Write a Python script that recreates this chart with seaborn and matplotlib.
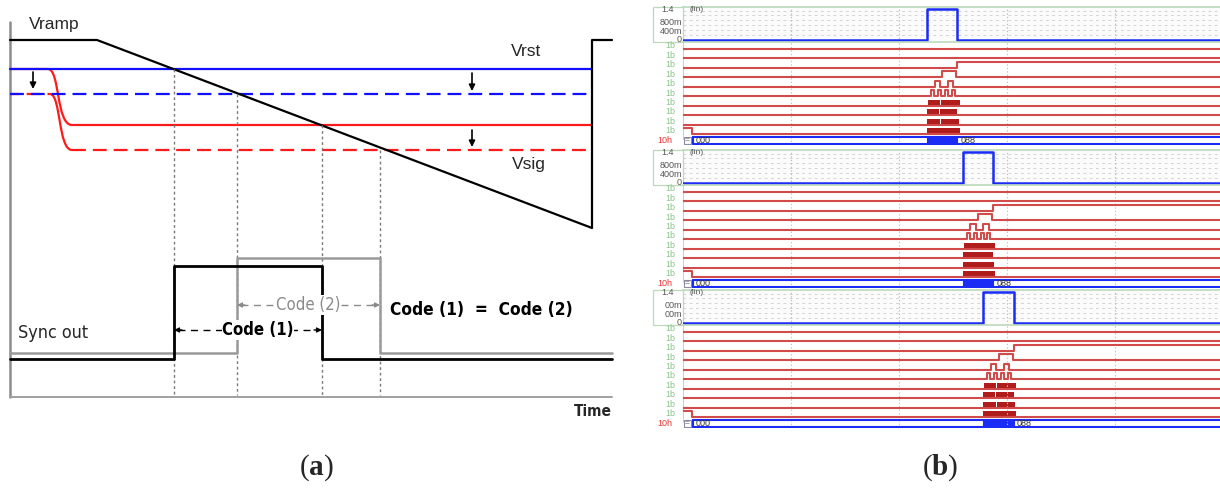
import matplotlib
matplotlib.use("Agg")
import matplotlib.pyplot as plt
import seaborn as sns
from matplotlib import font_manager
from matplotlib.path import Path
from matplotlib.patches import PathPatch, Rectangle

sns.set_theme(style="white")
plt.rcParams["font.family"] = ["Liberation Sans", "DejaVu Sans"]
plt.rcParams["lines.scale_dashes"] = False
plt.rcParams["mathtext.fontset"] = "custom"
plt.rcParams["mathtext.rm"] = "Liberation Serif"
plt.rcParams["mathtext.bf"] = "Liberation Serif:bold"

# narrow face for the lower labels (Calibri-like in the original)
NARROW, STRETCH, NSCALE = "Liberation Sans", "normal", 0.82
for f in font_manager.fontManager.ttflist:
    if f.name == "Liberation Sans Narrow":
        NARROW, STRETCH, NSCALE = f.name, "normal", 1.0
        break
    if f.name.startswith("DejaVu Sans") and ("Condensed" in f.name or "condensed" in str(f.stretch)):
        NARROW, STRETCH, NSCALE = f.name, str(f.stretch), 0.92

# ---------------- (a) single-slope ADC timing, schematic units ----------------
ramp_t = [10, 97, 592, 592, 612]
ramp_v = [40, 40, 228, 40, 40]
vrst_level, vrst_shifted = 69, 94
vsig_level, vsig_shifted = 125, 150
line_start, line_end = 10, 592
sig_drop = [48, 72]                       # settling of the pixel signal
cross_t = [174, 237, 322, 380]            # comparator flips
cross_v = [69, 94, 125, 150]
sync_low = [359, 353]
sync_high = [266, 258]

# ---------------- (b) simulated counter waveforms ----------------
t_max = 4.97
grid_t = [1, 2, 3, 4]
win_open = [2.26, 2.59, 2.78]
win_close = [2.54, 2.87, 3.06]
pulse_high = 1.4
analog_ticks = [0, 0.4, 0.8]
analog_tick_text = [["0", "400m", "800m"], ["0", "400m", "800m"], ["0", "00m", "00m"]]
fine_levels = [0.22, 0.44, 0.66, 0.88, 1.1, 1.3]
row_label = "1b"
bus_label = "10h"
bus_values = ["000", "088"]
lsb_reset = 0.08
# bit activity, offsets from window opening
bit2_rise = 0.28
bit3_pulses = [(0.14, 0.27)]
bit4_pulses = [(0.07, 0.12), (0.19, 0.24)]
bit5_pulses = [(0.035, 0.065), (0.10, 0.13), (0.165, 0.195), (0.225, 0.255)]
bit6_blocks = [(0.01, 0.12), (0.125, 0.30)]
bit7_blocks = [(0.0, 0.11), (0.115, 0.28)]
bit8_blocks = [(0.0, 0.12), (0.125, 0.29)]
bit9_blocks = [(0.0, 0.30)]

W, H = 1220, 488
fig = plt.figure(figsize=(W / 100, H / 100), dpi=100)


def px_axes(l, t, r, b):
    return fig.add_axes([l / W, 1 - b / H, (r - l) / W, (b - t) / H])


def trace(ax, x, y, **kw):
    sns.lineplot(x=x, y=y, ax=ax, sort=False, estimator=None, legend=False, **kw)


def ntext(ax, x, y, s, size, **kw):
    ax.text(x, y, s, fontsize=size * NSCALE, family=NARROW, fontstretch=STRETCH, **kw)


# ================= panel (a) =================
axL = px_axes(0, 0, 620, 488)
axL.set_axis_off()

trace(axL, [10, 10], [22, 397], color="#8c8c8c", linewidth=1.8)
trace(axL, [10, 612], [397, 397], color="#a0a0a0", linewidth=1.4)

RED, BLUE = "#ff1a1a", "#1010ff"
DASH = (0, (10, 5))

# red signal lines (settling from the reset level)
trace(axL, [line_start, sig_drop[0]], [vrst_level, vrst_level], color=RED, linewidth=1.6)
axL.add_patch(PathPatch(Path([(sig_drop[0], vrst_level), (sig_drop[0] + 12, vrst_level),
                              (sig_drop[1] - 16, vsig_level), (sig_drop[1], vsig_level)],
                             [Path.MOVETO, Path.CURVE4, Path.CURVE4, Path.CURVE4]),
                        fill=False, ec=RED, lw=1.6))
trace(axL, [sig_drop[1], line_end], [vsig_level, vsig_level], color=RED, linewidth=1.6)

trace(axL, [line_start, sig_drop[0] + 2], [vrst_shifted, vrst_shifted], color=RED,
      linewidth=1.6, linestyle=(3, (10, 5)))
axL.add_patch(PathPatch(Path([(sig_drop[0] + 2, vrst_shifted), (sig_drop[0] + 13, vrst_shifted),
                              (sig_drop[1] - 14, vsig_shifted), (sig_drop[1], vsig_shifted)],
                             [Path.MOVETO, Path.CURVE4, Path.CURVE4, Path.CURVE4]),
                        fill=False, ec=RED, lw=1.6))
trace(axL, [sig_drop[1], line_end], [vsig_shifted, vsig_shifted], color=RED,
      linewidth=1.6, linestyle=DASH)

# blue reset lines
trace(axL, [line_start, line_end], [vrst_level, vrst_level], color=BLUE, linewidth=1.6)
trace(axL, [line_start, line_end], [vrst_shifted, vrst_shifted], color=BLUE,
      linewidth=1.6, linestyle=DASH)

# ramp
trace(axL, ramp_t, ramp_v, color="black", linewidth=1.6)

# comparator crossings
for t, v in zip(cross_t, cross_v):
    trace(axL, [t, t], [v, 395], color="#7a7a7a", linewidth=1.0, linestyle=(0, (2, 2)))

# sync outputs
trace(axL, [10, cross_t[1], cross_t[1], cross_t[3], cross_t[3], 612],
      [sync_low[1], sync_low[1], sync_high[1], sync_high[1], sync_low[1], sync_low[1]],
      color="#9a9a9a", linewidth=1.8)
trace(axL, [10, cross_t[0], cross_t[0], cross_t[2], cross_t[2], 612],
      [sync_low[0], sync_low[0], sync_high[0], sync_high[0], sync_low[0], sync_low[0]],
      color="black", linewidth=2.0)

# small down arrows
for x, y0, y1 in [(33, 72, 89), (472, 73, 91), (472, 130, 147)]:
    axL.annotate("", xy=(x, y1), xytext=(x, y0),
                 arrowprops=dict(arrowstyle="-|>", color="black", lw=1.2,
                                 mutation_scale=9, shrinkA=0, shrinkB=0))

# code span arrows
for (a, b, y, col) in [(cross_t[0], cross_t[2], 330, "black"), (cross_t[1], cross_t[3], 305, "#8a8a8a")]:
    trace(axL, [a + 4, b - 4], [y, y], color=col, linewidth=1.0, linestyle=(0, (5, 4)))
    for tip, tail in [(a, a + 8), (b, b - 8)]:
        axL.annotate("", xy=(tip, y), xytext=(tail, y),
                     arrowprops=dict(arrowstyle="-|>", color=col, lw=1.0,
                                     mutation_scale=7, shrinkA=0, shrinkB=0))

ntext(axL, 258, 330, "Code (1)", 13, fontweight="bold", ha="center", va="center",
      color="black", bbox=dict(fc="white", ec="none", pad=0.5))
ntext(axL, 308, 305, "Code (2)", 13, ha="center", va="center", color="#8a8a8a",
      bbox=dict(fc="white", ec="none", pad=0.5))
ntext(axL, 390, 310, "Code (1)  =  Code (2)", 13.5, fontweight="bold", ha="left",
      va="center", color="black")
ntext(axL, 18, 333, "Sync out", 14, ha="left", va="center")
ntext(axL, 612, 411, "Time", 12, fontweight="bold", ha="right", va="center")
axL.text(29, 24, "Vramp", fontsize=12.5, ha="left", va="center")
axL.text(511, 52, "Vrst", fontsize=12.5, ha="left", va="center")
axL.text(512, 165, "Vsig", fontsize=12.5, ha="left", va="center")
axL.text(316, 468, r"($\mathbf{a}$)", fontsize=21, family="Liberation Serif",
         ha="center", va="center")
axL.set_xlim(0, 620)
axL.set_ylim(488, 0)

# ================= panel (b) =================
axR = px_axes(620, 0, 1220, 488)
axR.set_axis_off()
axR.set_xlim(620, 1220)
axR.set_ylim(488, 0)
axR.text(940, 468, r"($\mathbf{b}$)", fontsize=21, family="Liberation Serif",
         ha="center", va="center")

BUSBLUE = "#1a2cf5"
ROWRED = "#d24b4b"
DARKRED = "#b01c1c"
GREEN = "#bcd9bc"
LABEL_GREEN = "#8cc48c"
panel_top = [0, 143, 283]
lo_off, hi_off = 0.85, 0.2
bit_pulses = {3: bit3_pulses, 4: bit4_pulses, 5: bit5_pulses}
bit_blocks = {6: bit6_blocks, 7: bit7_blocks, 8: bit8_blocks, 9: bit9_blocks}

for k, p in enumerate(panel_top):
    o, c = win_open[k], win_close[k]

    # analog sync-out strip
    axA = px_axes(683, p + 7, 1220, p + 42)
    axA.set_facecolor("#fbfbfb")
    for side, s in axA.spines.items():
        s.set_visible(side in ("top", "bottom"))
        s.set_color(GREEN)
        s.set_linewidth(1.2)
    axA.set_xticks([])
    axA.set_yticks([])
    for g in fine_levels:
        axA.axhline(g, color="#cdcdcd", lw=0.6, ls=(0, (2, 2.5)))
    for g in grid_t:
        axA.axvline(g, color="#bdbdbd", lw=0.8, ls=(0, (1, 1.5)))
    axA.axvline(0, color=GREEN, lw=1.2)
    trace(axA, [0, o, o, c, c, t_max], [0, 0, pulse_high, pulse_high, 0, 0],
          color=BUSBLUE, linewidth=1.8)
    axA.add_patch(Rectangle((-0.28, -0.09), 0.28, 1.56, fill=False, ec=GREEN,
                            lw=0.9, clip_on=False))
    for v, s in zip(analog_ticks, analog_tick_text[k]):
        axA.text(-0.01, v, s, fontsize=6.5, color="#555555", ha="right", va="center")
    axA.text(-0.14, pulse_high - 0.05, "1.4", fontsize=6.5, color="#555555",
             ha="center", va="center")
    axA.text(0.06, pulse_high - 0.02, "(lin)", fontsize=6, color="#555555",
             ha="left", va="center")
    axA.set_xlim(0, t_max)
    axA.set_ylim(-0.09, 1.47)

    # digital counter bits + bus
    axD = px_axes(683, p + 41, 1220, p + 145)
    axD.set_axis_off()
    for g in grid_t:
        axD.axvline(g, color="#c4c4c4", lw=0.8, ls=(0, (1, 1.5)))
    axD.axvline(0, ymin=0.06, color=GREEN, lw=1.4)

    for i in range(10):
        lo, hi = i + lo_off, i + hi_off
        xs, ys = [0], [lo]
        if i == 2:
            xs += [o + bit2_rise, o + bit2_rise, t_max]
            ys += [lo, hi, hi]
        else:
            if i == 9:
                xs, ys = [0, lsb_reset, lsb_reset], [hi, hi, lo]
            for a, b in bit_pulses.get(i, []):
                xs += [o + a, o + a, o + b, o + b]
                ys += [lo, hi, hi, lo]
            xs.append(t_max)
            ys.append(lo)
        trace(axD, xs, ys, color=ROWRED, linewidth=1.5)
        for a, b in bit_blocks.get(i, []):
            axD.add_patch(Rectangle((o + a, hi), b - a, lo - hi, fc=DARKRED, ec="none"))
        axD.text(-0.12, i + 0.5, row_label, fontsize=6.5, color=LABEL_GREEN,
                 ha="center", va="center", clip_on=False)

    b_top, b_bot = 10.2, 10.85
    trace(axD, [0.09, t_max], [b_top, b_top], color=BUSBLUE, linewidth=1.5)
    trace(axD, [0.09, t_max], [b_bot, b_bot], color=BUSBLUE, linewidth=1.5)
    trace(axD, [0.09, 0.09], [b_top, b_bot], color=BUSBLUE, linewidth=1.5)
    axD.add_patch(Rectangle((0.005, b_top), 0.065, b_bot - b_top, fc="white",
                            ec="#8a8aa0", lw=0.8))
    axD.text(0.037, (b_top + b_bot) / 2, "=", fontsize=6, color="#555555",
             ha="center", va="center")
    axD.add_patch(Rectangle((o, b_top), c - o, b_bot - b_top, fc=BUSBLUE, ec=BUSBLUE, lw=0.8))
    axD.text(0.12, (b_top + b_bot) / 2 + 0.05, bus_values[0], fontsize=6.5,
             color="#333333", ha="left", va="center")
    axD.text(c + 0.03, (b_top + b_bot) / 2 + 0.05, bus_values[1], fontsize=6.5,
             color="#333333", ha="left", va="center")
    axD.text(-0.17, (b_top + b_bot) / 2, bus_label, fontsize=6.5, color="#ee3333",
             ha="center", va="center", clip_on=False)
    axD.set_xlim(0, t_max)
    axD.set_ylim(11.0, 0)

fig.savefig("out.png", dpi=100, facecolor="white")
